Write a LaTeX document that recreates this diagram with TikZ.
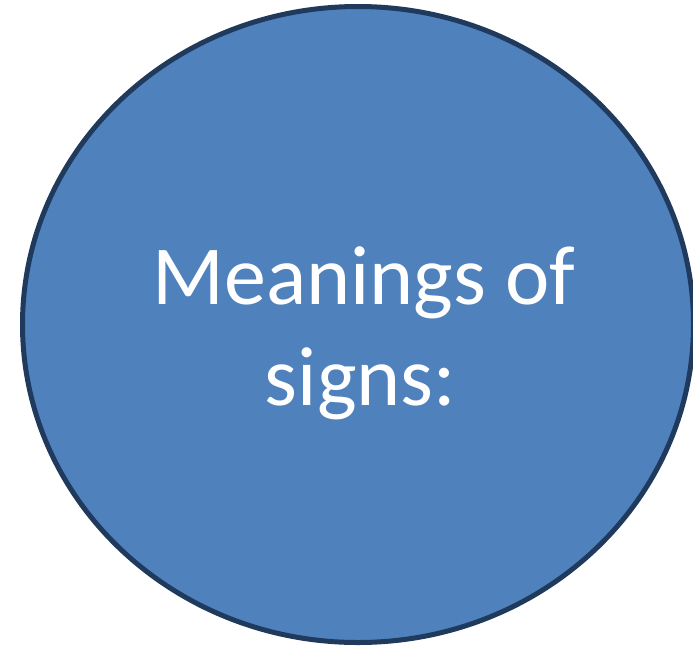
\documentclass[tikz,border=0pt]{standalone}
\usepackage{fontspec}
\setmainfont{Carlito}
\begin{document}
\begin{tikzpicture}[x=1pt,y=-1pt,
  bubble/.style={fill=bubblefill,draw=bubbleline,line width=5pt},
  bubbletext/.style={text=white,inner sep=0pt,anchor=base,font=\fontsize{84}{101}\selectfont}]
\definecolor{bubblefill}{HTML}{4F81BD}
\definecolor{bubbleline}{HTML}{1F3A5C}
\useasboundingbox (0,0) rectangle (693,649);
\begin{scope}
\clip (0,0) rectangle (693,649);
\draw[bubble] (358,324.5) ellipse [x radius=335.5, y radius=318];
\end{scope}
\node[bubbletext] (l1) at (364,304) {Meanings of};
\node[bubbletext] (l2) at (360.5,405) {signs:};
\end{tikzpicture}
\end{document}
